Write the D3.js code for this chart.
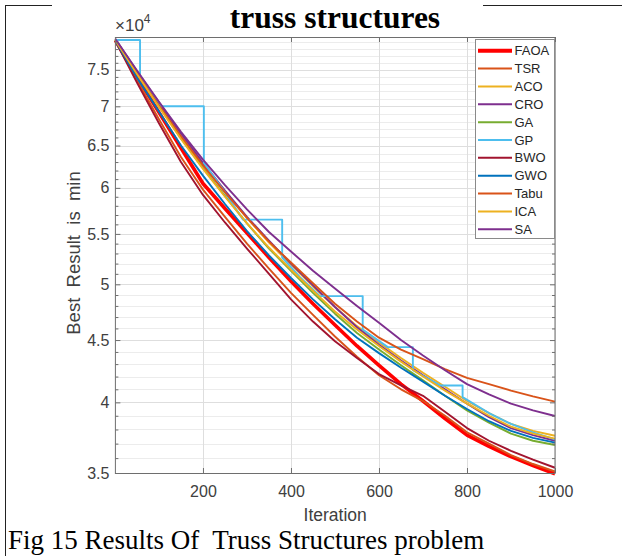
<!DOCTYPE html>
<html>
<head>
<meta charset="utf-8">
<script src="https://cdn.jsdelivr.net/npm/d3@7"></script>
<style>
  html, body { margin: 0; padding: 0; background: #fff; }
  svg { display: block; }
  text { white-space: pre; }
</style>
</head>
<body>
<svg id="chart" width="622" height="556"></svg>
<script>
// Iterations at which each convergence curve is sampled
const iterations = [1, 50, 100, 150, 200, 250, 300, 350, 400, 450, 500,
                    550, 600, 650, 700, 750, 800, 850, 900, 950, 1000];

// Best objective value found so far, per method
const FAOA = [79300, 74000, 69200, 64700, 60500, 57700, 55100, 52600, 50300, 48200, 46300,
              44500, 42900, 41400, 40100, 38800, 37600, 36800, 36100, 35500, 34950];
const TSR  = [79300, 73500, 68300, 63600, 59800, 56800, 54000, 51500, 49200, 47200, 45300,
              43600, 42100, 41000, 40100, 39000, 37800, 37000, 36200, 35600, 35100];
const ACO  = [79400, 74700, 70300, 66300, 62800, 59600, 56700, 54100, 51900, 49800, 47900,
              46200, 44800, 43500, 42300, 41200, 40100, 39200, 38400, 37900, 37550];
const CRO  = [79500, 74800, 70500, 66500, 62900, 59700, 56800, 54300, 52000, 49900, 47900,
              46100, 44600, 43300, 42100, 41000, 39900, 38900, 38100, 37600, 37200];
const GA   = [79400, 74500, 70000, 65900, 62300, 59100, 56100, 53500, 51300, 49200, 47300,
              45600, 44200, 42900, 41700, 40500, 39400, 38500, 37700, 37200, 36900];
const BWO  = [79200, 73200, 67800, 63000, 59200, 56200, 53500, 51000, 48600, 46600, 44900,
              43500, 42200, 41300, 40500, 39300, 38100, 37200, 36500, 35900, 35350];
const GWO  = [79200, 73900, 69300, 65000, 61400, 58200, 55300, 52800, 50600, 48600, 46800,
              45200, 43900, 42700, 41600, 40500, 39500, 38600, 37900, 37400, 37070];
const Tabu = [79300, 74500, 70100, 66100, 62600, 59500, 56700, 54200, 52100, 50100, 48200,
              46600, 45200, 44200, 43400, 42600, 41900, 41400, 40900, 40450, 40050];
const ICA  = [79300, 74400, 69900, 65800, 62200, 59000, 56100, 53600, 51400, 49400, 47500,
              45900, 44500, 43200, 42000, 40900, 39900, 39000, 38200, 37700, 37350];
const SA   = [79500, 74900, 70600, 66700, 63300, 60300, 57600, 55200, 53200, 51300, 49600,
              48000, 46500, 45000, 43700, 42500, 41400, 40600, 39900, 39400, 38980];

// GP stalls for long stretches, so its curve is kept with its own breakpoints
const gpIterations = [1, 57, 57, 102, 202, 202, 250, 291, 380, 380, 420, 466, 563, 563,
                      620, 677, 677, 739, 790, 790, 850, 900, 950, 1000];
const gpValues     = [79350, 79350, 74200, 70000, 70000, 62900, 59500, 56500, 56500, 52600,
                      50700, 48900, 48900, 45900, 44400, 44400, 42500, 41300, 41300, 40400,
                      39200, 38400, 37800, 37300];

const methodNames = ["FAOA", "TSR", "ACO", "CRO", "GA", "GP", "BWO", "GWO", "Tabu", "ICA", "SA"];
const methodColors = ["#ff0000", "#d95319", "#edb120", "#7e2f8e", "#77ac30", "#4dbeee",
                      "#a2142f", "#0072bd", "#d95319", "#edb120", "#7e2f8e"];

const xTickValues = [200, 400, 600, 800, 1000];
const yTickValues = [35000, 40000, 45000, 50000, 55000, 60000, 65000, 70000, 75000];
const yTickLabels = ["3.5", "4", "4.5", "5", "5.5", "6", "6.5", "7", "7.5"];

const seriesByName = {
  FAOA: iterations.map((it, i) => [it, FAOA[i]]),
  TSR:  iterations.map((it, i) => [it, TSR[i]]),
  ACO:  iterations.map((it, i) => [it, ACO[i]]),
  CRO:  iterations.map((it, i) => [it, CRO[i]]),
  GA:   iterations.map((it, i) => [it, GA[i]]),
  GP:   gpIterations.map((it, i) => [it, gpValues[i]]),
  BWO:  iterations.map((it, i) => [it, BWO[i]]),
  GWO:  iterations.map((it, i) => [it, GWO[i]]),
  Tabu: iterations.map((it, i) => [it, Tabu[i]]),
  ICA:  iterations.map((it, i) => [it, ICA[i]]),
  SA:   iterations.map((it, i) => [it, SA[i]])
};

const svg = d3.select("#chart");
const sans = "'Liberation Sans', Arial, Helvetica, sans-serif";
const serif = "'Liberation Serif', 'Times New Roman', serif";

// page frame
svg.append("line").attr("x1", 5.5).attr("x2", 5.5).attr("y1", 5).attr("y2", 556)
  .attr("stroke", "#222").attr("stroke-width", 1);
svg.append("line").attr("x1", 5).attr("x2", 52).attr("y1", 5.5).attr("y2", 5.5)
  .attr("stroke", "#222").attr("stroke-width", 1);
svg.append("line").attr("x1", 483).attr("x2", 622).attr("y1", 5.5).attr("y2", 5.5)
  .attr("stroke", "#222").attr("stroke-width", 1);

const L = 115.4, R = 555, T = 37, B = 473;
const x = d3.scaleLinear().domain([1, 1000]).range([L, R]);
const y = d3.scaleLog().domain([35000, 79800]).range([B, T]);

const yMinor = d3.range(36000, 80000, 1000).filter(v => v % 5000 !== 0);

// grid
const grid = svg.append("g");
grid.selectAll(".ymin").data(yMinor).join("line")
  .attr("x1", L).attr("x2", R)
  .attr("y1", d => Math.round(y(d)) + 0.5).attr("y2", d => Math.round(y(d)) + 0.5)
  .attr("stroke", "#ececec").attr("stroke-width", 1);
grid.selectAll(".ymaj").data(yTickValues).join("line")
  .attr("x1", L).attr("x2", R)
  .attr("y1", d => Math.round(y(d)) + 0.5).attr("y2", d => Math.round(y(d)) + 0.5)
  .attr("stroke", "#dedede").attr("stroke-width", 1);
grid.selectAll(".xmaj").data(xTickValues).join("line")
  .attr("y1", T).attr("y2", B)
  .attr("x1", d => Math.round(x(d)) + 0.5).attr("x2", d => Math.round(x(d)) + 0.5)
  .attr("stroke", "#dedede").attr("stroke-width", 1);

// curves
const line = d3.line().x(d => x(d[0])).y(d => y(d[1]));
const curves = svg.append("g").attr("fill", "none")
  .attr("stroke-linejoin", "round").attr("stroke-linecap", "butt");
methodNames.forEach((name, i) => {
  curves.append("path")
    .attr("d", line(seriesByName[name]))
    .attr("stroke", methodColors[i])
    .attr("stroke-width", name === "FAOA" ? 3.6 : 1.9);
});

// axes
const axisColor = "#6e6e6e";
const labelColor = "#404040";
function styleAxis(g) {
  g.select(".domain").remove();
  g.selectAll("line").attr("stroke", axisColor);
  g.selectAll("text").attr("fill", labelColor).attr("font-family", sans).attr("font-size", 16);
}
svg.append("g").attr("transform", `translate(0,${B})`)
  .call(d3.axisBottom(x).tickValues(xTickValues).tickFormat(d3.format("d"))
        .tickSizeInner(-5).tickSizeOuter(0).tickPadding(13))
  .call(styleAxis);
svg.append("g").attr("transform", `translate(0,${T})`)
  .call(d3.axisTop(x).tickValues(xTickValues).tickFormat("")
        .tickSizeInner(-5).tickSizeOuter(0))
  .call(styleAxis);
svg.append("g").attr("transform", `translate(${L},0)`)
  .call(d3.axisLeft(y).tickValues(yTickValues).tickFormat((d, i) => yTickLabels[i])
        .tickSizeInner(-5).tickSizeOuter(0).tickPadding(6))
  .call(styleAxis);
svg.append("g").attr("transform", `translate(${L},0)`)
  .call(d3.axisLeft(y).tickValues(yMinor).tickFormat("").tickSizeInner(-3).tickSizeOuter(0))
  .call(styleAxis);
svg.append("g").attr("transform", `translate(${R},0)`)
  .call(d3.axisRight(y).tickValues(yTickValues).tickFormat("").tickSizeInner(-5).tickSizeOuter(0))
  .call(styleAxis);
svg.append("g").attr("transform", `translate(${R},0)`)
  .call(d3.axisRight(y).tickValues(yMinor).tickFormat("").tickSizeInner(-3).tickSizeOuter(0))
  .call(styleAxis);

// axes box
svg.append("rect").attr("x", L).attr("y", T + 0.5).attr("width", R - L).attr("height", B - T)
  .attr("fill", "none").attr("stroke", axisColor).attr("stroke-width", 1);

// exponent label
const expo = svg.append("text").attr("x", 115).attr("y", 31)
  .attr("font-family", sans).attr("font-size", 17).attr("fill", labelColor);
expo.append("tspan").text("\u00d710");
expo.append("tspan").attr("font-size", 12).attr("dy", -8).text("4");

// axis titles
svg.append("text").attr("x", (L + R) / 2).attr("y", 521)
  .attr("text-anchor", "middle").attr("font-family", sans).attr("font-size", 17.5)
  .attr("fill", labelColor).text("Iteration");
svg.append("text").attr("transform", "translate(80,253) rotate(-90)")
  .attr("text-anchor", "middle").attr("font-family", sans).attr("font-size", 18.5)
  .attr("fill", labelColor).text("Best  Result  is  min");

// title
svg.append("text").attr("x", 335).attr("y", 28)
  .attr("text-anchor", "middle").attr("font-family", serif).attr("font-weight", "bold")
  .attr("font-size", 31.5).attr("fill", "#000").text("truss structures");

// caption
svg.append("text").attr("x", 8).attr("y", 549)
  .attr("font-family", serif).attr("font-size", 27).attr("fill", "#000")
  .text("Fig 15 Results Of  Truss Structures problem");

// legend
const lg = svg.append("g");
lg.append("rect").attr("x", 475.5).attr("y", 39.5).attr("width", 79).attr("height", 199)
  .attr("fill", "#fff").attr("stroke", "#8a8a8a").attr("stroke-width", 1);
methodNames.forEach((name, i) => {
  const yy = 50.7 + i * 17.86;
  lg.append("line").attr("x1", 478).attr("x2", 512).attr("y1", yy).attr("y2", yy)
    .attr("stroke", methodColors[i]).attr("stroke-width", name === "FAOA" ? 4 : 2);
  lg.append("text").attr("x", 514.5).attr("y", yy).attr("dy", "0.35em")
    .attr("font-family", sans).attr("font-size", 13).attr("fill", "#262626").text(name);
});
</script>
</body>
</html>
